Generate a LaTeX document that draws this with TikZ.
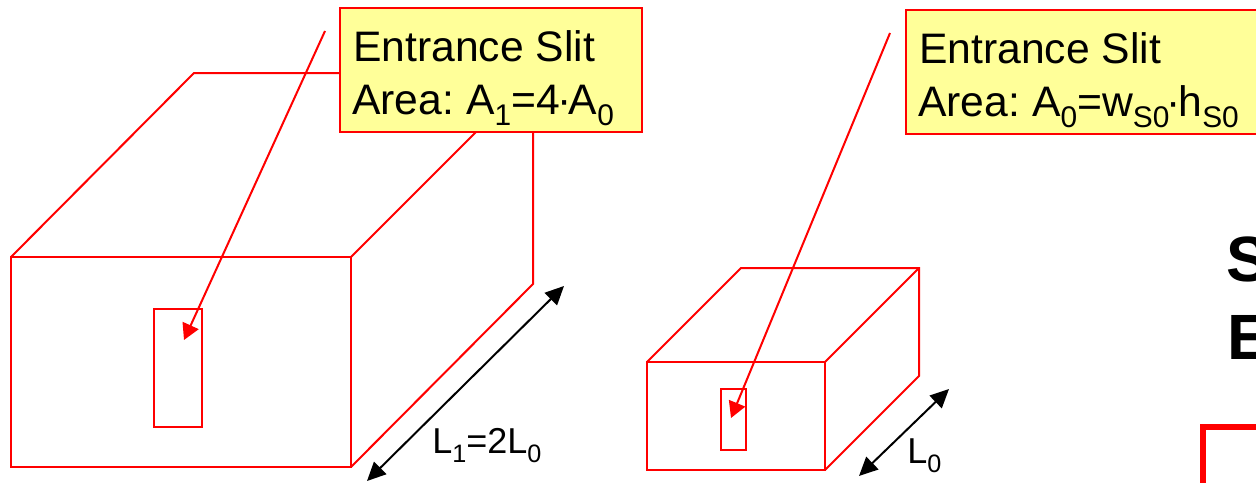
\documentclass[tikz,border=0pt]{standalone}
\usepackage{fontspec}
\setmainfont{Liberation Sans}
\frenchspacing
\usetikzlibrary{arrows.meta}
\definecolor{calloutfill}{RGB}{255,255,153}
\definecolor{linered}{RGB}{255,0,0}
\tikzset{
  x=0.75pt,y=-0.75pt,
  redline/.style={draw=linered,line width=1.5pt,line join=miter},
  leader/.style={draw=linered,line width=1.5pt,-{Triangle[length=12pt,width=13pt]}},
  dimline/.style={draw=black,line width=1.5pt,{Triangle[length=14pt,width=13pt]}-{Triangle[length=14pt,width=13pt]}},
  callout/.style={draw=linered,fill=calloutfill,line width=1.5pt,anchor=north west,inner sep=0pt,outer sep=0pt},
  calltext/.style={font=\fontsize{32}{32}\selectfont,anchor=base west,inner sep=0pt},
  dimtext/.style={font=\fontsize{27}{27}\selectfont,anchor=base west,inner sep=0pt},
  boldtext/.style={font=\fontsize{48}{48}\selectfont\bfseries,anchor=base west,inner sep=0pt},
}
\newcommand{\dn}[1]{\raisebox{-0.26em}{\scalebox{0.7}{#1}}}
\newcommand{\mdot}{\kern-0.06em·\kern-0.06em}
\begin{document}
\begin{tikzpicture}
\useasboundingbox (0,0) rectangle (1256,482);
\clip (0,0) rectangle (1256,482);
% big box
\coordinate (bfl) at (11,257);
\coordinate (bfr) at (351,257);
\coordinate (bbr) at (351,467);
\coordinate (bbl) at (11,467);
\coordinate (btl) at (194,73);
\coordinate (btr) at (533,73);
\coordinate (bdr) at (533,284);
\coordinate (btm) at (535,73);
\draw[redline] (bfl) -- (bfr) -- (bbr) -- (bbl) -- cycle;
\draw[redline] (bfl) -- (btl) -- (btr) -- (bdr) -- (bbr);
\draw[redline] (bfr) -- (btm);
\coordinate (s1a) at (154,309);
\coordinate (s1b) at (202,427);
\draw[redline] (s1a) rectangle (s1b);
% small box
\coordinate (sfl) at (647,362);
\coordinate (sfr) at (825,362);
\coordinate (sbr) at (825,470);
\coordinate (sbl) at (647,470);
\coordinate (stl) at (741,268);
\coordinate (str) at (919,268);
\coordinate (sdr) at (919,376);
\draw[redline] (sfl) -- (sfr) -- (sbr) -- (sbl) -- cycle;
\draw[redline] (sfl) -- (stl) -- (str) -- (sdr) -- (sbr);
\draw[redline] (sfr) -- (str);
\coordinate (s0a) at (721,389);
\coordinate (s0b) at (746,450);
\draw[redline] (s0a) rectangle (s0b);
% callouts
\node[callout,minimum width=226.5pt,minimum height=93pt] (c1) at (340,8) {};
\node[callout,minimum width=270pt,minimum height=93pt] (c2) at (906,10) {};
\node[calltext] (t1a) at (353,61) {Entrance Slit};
\node[calltext] (t1b) at (352,114) {Area: A\dn{1}=4\mdot A\dn{0}};
\node[calltext] (t2a) at (919,63) {Entrance Slit};
\node[calltext] (t2b) at (918,116) {Area: A\dn{0}=w\dn{S0}\mdot h\dn{S0}};
% leaders
\coordinate (l1s) at (325,31);
\coordinate (l1e) at (184,340);
\coordinate (l0s) at (890,33);
\coordinate (l0e) at (731,418);
\draw[leader] (l1s) -- (l1e);
\draw[leader] (l0s) -- (l0e);
% dimensions
\coordinate (d1a) at (367,481);
\coordinate (d1b) at (564,286);
\coordinate (d0a) at (859,476);
\coordinate (d0b) at (949,389);
\draw[dimline] (d1a) -- (d1b);
\draw[dimline] (d0a) -- (d0b);
\node[dimtext] (dl1) at (432,453) {L\dn{1}=2L\dn{0}};
\node[dimtext] (dl0) at (907,463) {L\dn{0}};
% cut-off text and frame
\node[boldtext] (ts) at (1226.5,281) {S};
\node[boldtext] (te) at (1227,359) {E};
\coordinate (fa) at (1203,500);
\coordinate (fb) at (1203,427);
\coordinate (fc) at (1270,427);
\draw[draw=linered,line width=4.5pt,line join=miter] (fa) -- (fb) -- (fc);
\end{tikzpicture}
\end{document}
